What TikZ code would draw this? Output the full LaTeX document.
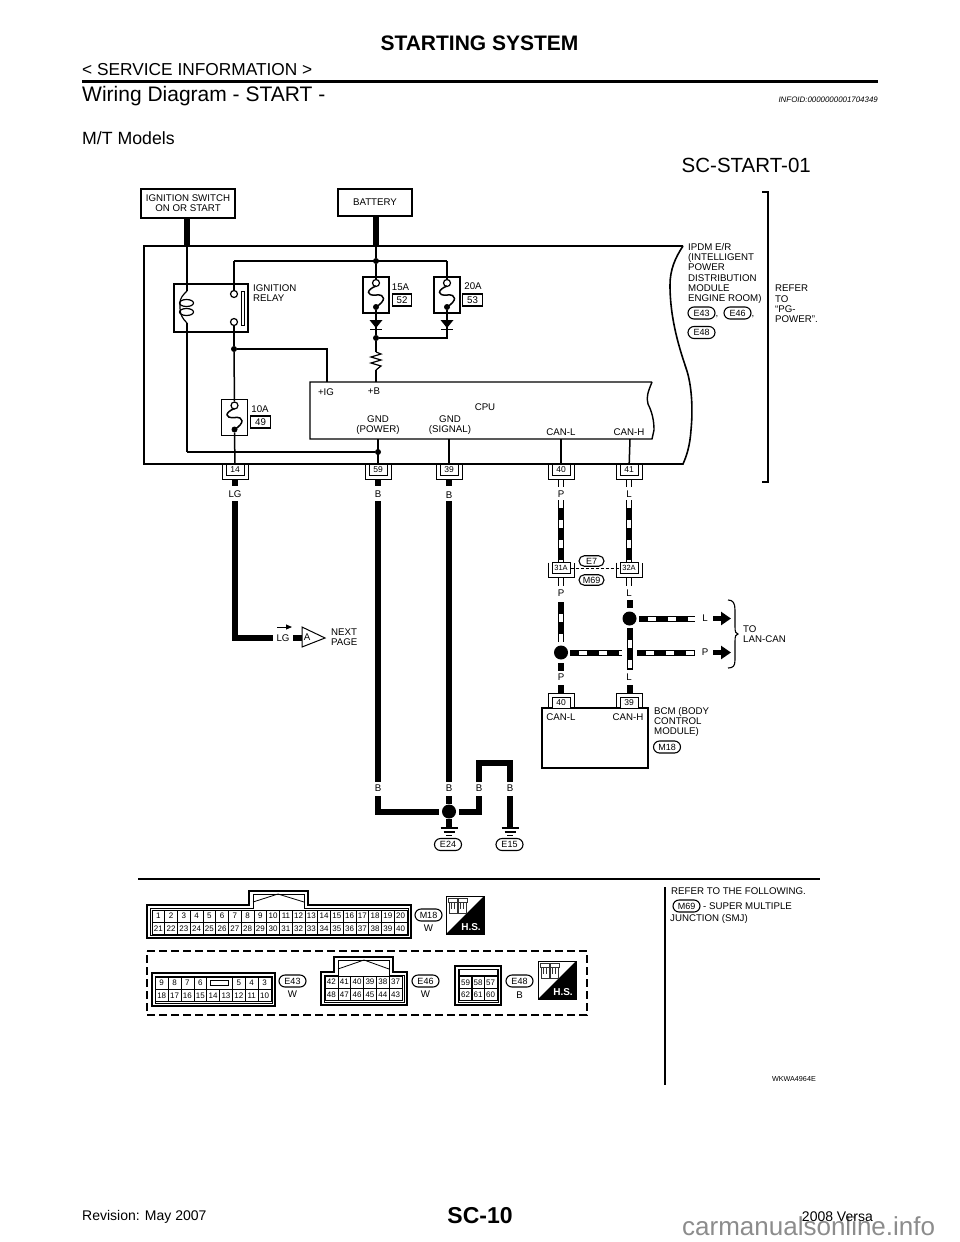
\documentclass[tikz,border=0pt]{standalone}
\usepackage{fontspec}
\setmainfont{Liberation Sans}
\usetikzlibrary{arrows.meta}
\usetikzlibrary{shapes.misc}
\newcommand{\fs}[1]{\fontsize{#1}{#1}\selectfont}
\newcommand{\fuseunit}[3]{
\node[fusebox] (#1) at (#2,#3) {};
\node[contact] (#1a) at (#2,#3-12) {};
\node[jdot] (#1b) at (#2,#3+12) {};
\draw[wire,shift={(#2,#3)}] (0,-9) .. controls (-10,-5) and (-10,1) .. (0,0) .. controls (10,-1) and (10,6) .. (0,12);
}
\newcommand{\diodeunit}[3]{
\coordinate (#1) at (#2,#3);
\fill[shift={(#2,#3)}] (-6.5,-8) -- (6.5,-8) -- (0,0) -- cycle;
\draw[wire,shift={(#2,#3)}] (-6,1.5) -- (6,1.5);
}
\newcommand{\groundunit}[3]{
\coordinate (#1) at (#2,#3);
\draw[wire,shift={(#2,#3)}] (-8.5,0) -- (8.5,0);
\draw[wire,shift={(#2,#3)}] (-5.5,4) -- (5.5,4);
\draw[wire,shift={(#2,#3)}] (-3,7.5) -- (3,7.5);
}
\tikzset{
every node/.style={inner sep=0pt,text=black,font=\fontsize{9.7}{10.2}\selectfont},
wire/.style={line width=1.5pt},
thickwire/.style={line width=6pt},
stripewire/.style={line width=4pt,white,dash pattern=on 8pt off 12pt,dash phase=#1,preaction={draw,black,line width=6pt,solid}},
stripewire/.default=8pt,
namebox/.style={draw,line width=1.5pt,align=center},
fusebox/.style={draw,line width=1.2pt,fill=white,minimum width=26pt,minimum height=36pt},
ampbox/.style={draw,line width=1.2pt,minimum width=19.5pt,minimum height=12pt},
pinbox/.style={draw,line width=1pt,fill=white,minimum width=18pt,minimum height=11pt,font=\fs{8.5}},
contact/.style={circle,draw,line width=1.2pt,fill=white,minimum size=7pt},
jdot/.style={circle,fill=black,minimum size=6pt},
bigdot/.style={circle,fill=black,minimum size=14pt},
oval/.style={rounded rectangle,draw,line width=1.1pt,minimum width=27pt,minimum height=12pt,font=\fs{9}},
cell/.style={draw,line width=.6pt,minimum width=12.75pt,minimum height=12pt,font=\fs{8}},
fatarrow/.style={line width=5pt,-{Triangle[length=10pt,width=13pt]}},
shell/.style={line width=1.1pt,line join=miter},
pinedge/.pic={\draw[line width=1pt] (-13,-5.5) -- (-13,9.5) -- (13,9.5) -- (13,-5.5);},
hsicon/.pic={
\draw[line width=.7pt] (0,0) rectangle (38,38);
\fill (38,0) -- (38,38) -- (0,38) -- cycle;
\draw[line width=.7pt,black!80] (3,6) rectangle (11,17);
\draw[line width=.7pt,black!80] (12,6) rectangle (20,17);
\draw[line width=.7pt,black!80] (2,2) rectangle (11,6);
\draw[line width=.7pt,black!80] (12,2) rectangle (21,6);
\draw[line width=.7pt,black!80] (5,6) -- (5,13) (8,6) -- (8,13) (14,6) -- (14,13) (17,6) -- (17,13);
\node[text=white,font=\bfseries\fs{10}] (tag) at (25,31) {H.S.};
}
}
\begin{document}
\begin{tikzpicture}[x=1pt,y=-1pt]
\useasboundingbox (0,0) rectangle (960,1242);

\node[font=\bfseries\fs{21},anchor=center] (title) at (479.5,43) {STARTING SYSTEM};
\node[font=\fs{17.3},anchor=west] (section) at (82,70) {< SERVICE INFORMATION >};
\coordinate (rulea) at (82,81.5);
\coordinate (ruleb) at (878,81.5);
\draw[line width=2.5pt] (rulea) -- (ruleb);
\node[font=\fs{21},anchor=west] (heading) at (82,96) {Wiring Diagram - START -};
\node[font=\itshape\fs{7.9},anchor=east] (infoid) at (878,100) {INFOID:0000000001704349};
\node[font=\fs{17.7},anchor=west] (models) at (82,138) {M/T Models};
\node[font=\fs{20.5},anchor=east] (code) at (811,165) {SC-START-01};
\node[font=\bfseries\fs{23},anchor=center] (page) at (480,1216) {SC-10};
\node[font=\fs{14},anchor=west] (rev) at (82,1217) {Revision: May 2007};
\node[font=\fs{26},text=black!45,anchor=west] (mark) at (682,1226) {carmanualsonline.info};
\node[font=\fs{14},anchor=east] (year) at (873,1217) {2008 Versa};

\node[namebox,minimum width=94pt,minimum height=29pt] (ign) at (188,203.5) {IGNITION SWITCH\\ON OR START};
\node[namebox,minimum width=74pt,minimum height=27pt] (bat) at (375,202.5) {BATTERY};
\coordinate (ignin) at (187,246);
\coordinate (batin) at (376,246);
\draw[thickwire] (ign.south -| ignin) -- (ignin);
\draw[thickwire] (bat.south -| batin) -- (batin);

\draw[line width=1.6pt] (683,246) -- (144,246) -- (144,464) -- (683,464) .. controls (687,455) and (690,445) .. (691,430) .. controls (693,410) and (692,385) .. (686,368) .. controls (680,350) and (670,320) .. (670,285) .. controls (670,270) and (675,258) .. (683,246);
\draw[line width=1.4pt] (652,382) -- (310,382) -- (310,439) -- (652,439) -- (654,430) .. controls (654,420) and (652,412) .. (648,404) .. controls (646,397) and (648,392) .. (652,382);

\node[fusebox,minimum width=74pt,minimum height=48pt] (relay) at (211,308) {};
\node[contact] (relaya) at (234,294) {};
\node[contact] (relayb) at (234,322) {};
\draw[line width=1pt,fill=white] (241,291) rectangle (244,325);
\node[anchor=west,align=left] (relaytxt) at (253,293) {IGNITION\\RELAY};
\coordinate (coila) at (187,291);
\coordinate (coilb) at (187,323);
\coordinate (ignbot) at (187,452);
\draw[wire] (ignin) -- (coila);
\draw[wire] (coilb) -- (ignbot);
\draw[line width=1.2pt] (coila) .. controls (183,295) and (180,298) .. (180,303) .. controls (180,305) and (180,306) .. (180,308) .. controls (180,315) and (183,319) .. (coilb);
\draw[line width=1.2pt] (186.5,303) ellipse (7 and 3.5);
\draw[line width=1.2pt] (186.5,312) ellipse (7 and 3.5);

\node[jdot] (jtop) at (376,261) {};
\coordinate (topleft) at (234,261);
\coordinate (topright) at (447,261);
\draw[wire] (batin) -- (jtop);
\draw[wire] (topleft) -- (topright);
\draw[wire] (topleft) -- (relaya);

\fuseunit{fa}{376}{295}
\fuseunit{fb}{447}{295}
\fuseunit{fc}{234.5}{417.5}
\draw[wire] (jtop) -- (faa);
\draw[wire] (topright) -- (fba);
\node[anchor=center] (fatxt) at (400.5,287) {15A};
\node[ampbox] (faamp) at (402,300) {52};
\node[anchor=center] (fbtxt) at (473,286) {20A};
\node[ampbox] (fbamp) at (472.5,300) {53};
\node[anchor=center] (fctxt) at (260,409) {10A};
\node[ampbox] (fcamp) at (260.5,422) {49};

\diodeunit{da}{376}{328}
\diodeunit{db}{447}{328}
\node[jdot] (jmid) at (376,338) {};
\coordinate (midright) at (447,338);
\draw[wire] (fab) -- (da);
\draw[wire] (fbb) -- (db);
\draw[wire] (da) -- (jmid);
\draw[wire] (db) -- (midright) -- (jmid);
\coordinate (resa) at (376,352);
\coordinate (resb) at (376,370);
\coordinate (cpub) at (376,382);
\draw[wire] (jmid) -- (resa);
\draw[line width=1.2pt] (resa) -- (381,354) -- (371,357) -- (381,360) -- (371,363) -- (381,366) -- (resb);
\draw[wire] (resb) -- (cpub);

\node[jdot] (jrelay) at (234,349) {};
\coordinate (cpuig) at (327,382);
\draw[wire] (relayb) -- (jrelay);
\draw[wire] (jrelay) -- (fca);
\draw[wire] (jrelay) -| (cpuig);

\node (igtxt) at (326,392) {+IG};
\node (btxt) at (374,391) {+B};
\node (cputxt) at (485,407) {CPU};
\node[align=center] (gndp) at (378,425) {GND\\(POWER)};
\node[align=center] (gnds) at (450,425) {GND\\(SIGNAL)};
\node (canl) at (561,432) {CAN-L};
\node (canh) at (629,432) {CAN-H};

\node[anchor=west,align=left] (ipdm) at (688,273.5) {IPDM E/R\\(INTELLIGENT\\POWER\\DISTRIBUTION\\MODULE\\ENGINE ROOM)};
\node[oval] (ea) at (701.5,313) {E43};
\node (commaa) at (717,317) {,};
\node[oval] (eb) at (737.5,313) {E46};
\node (commab) at (753,317) {,};
\node[oval] (ec) at (701.5,332.5) {E48};
\draw[line width=1.5pt] (762,192) -- (768,192) -- (768,482) -- (762,482);
\node[anchor=west,align=left] (refer) at (775,304) {REFER\\TO\\``PG-\\POWER''.};

\foreach \name/\px/\num in {p14/235/14,p59/378/59,p39/449/39,p40/561/40,p41/629/41}{
\node[pinbox] (\name) at (\px,469.5) {\num};
\pic at (\name) {pinedge};
}
\node[jdot] (jgnd) at (378,452) {};
\coordinate (cpug) at (378,439);
\coordinate (cpus) at (449,439);
\coordinate (cpul) at (561,439);
\coordinate (cpuh) at (630,439);
\draw[wire] (ignbot) -- (jgnd);
\draw[wire] (cpug) -- (p59);
\draw[wire] (cpus) -- (p39);
\draw[wire] (cpul) -- (p40);
\draw[wire] (cpuh) -- (p41);
\draw[wire] (fcb) -- (p14);
\foreach \name/\px in {p14/235,p59/378,p39/449}{
\coordinate (\name s) at (\px,480);
\coordinate (\name t) at (\px,486);
\draw[thickwire] (\name s) -- (\name t);
}
\foreach \name/\px in {p40/561,p41/629}{
\coordinate (\name s) at (\px,480);
\coordinate (\name t) at (\px,487);
\draw[stripewire=0pt] (\name s) -- (\name t);
}
\node (lgtxt) at (235,494) {LG};
\node (bta) at (378,494) {B};
\node (btb) at (449,495) {B};
\node (ptxt) at (561,494) {P};
\node (ltxt) at (629,494) {L};

\coordinate (lga) at (235,501);
\coordinate (lgb) at (235,637.5);
\coordinate (lgc) at (273,637.5);
\draw[thickwire] (lga) -- (lgb) -- (lgc);
\node (lgtxtb) at (283,638) {LG};
\coordinate (arra) at (277,627);
\coordinate (arrb) at (292,627);
\draw[line width=1pt,-{Triangle[length=6pt,width=5pt]}] (arra) -- (arrb);
\coordinate (stuba) at (293,637.5);
\coordinate (stubb) at (302,637.5);
\draw[thickwire] (stuba) -- (stubb);
\draw[line width=1pt,fill=white] (302,627) -- (325,638) -- (302,647) -- cycle;
\node (atxt) at (307,637) {A};
\node[anchor=west,align=left] (nexttxt) at (331,637) {NEXT\\PAGE};

\coordinate (ba) at (378,501);
\coordinate (bb) at (378,782);
\coordinate (bc) at (378,796);
\coordinate (bd) at (378,811.5);
\node[bigdot] (jearth) at (449,811.5) {};
\draw[thickwire] (ba) -- (bb);
\draw[thickwire] (bc) -- (bd) -- (439,811.5);
\node (btc) at (378,788) {B};
\coordinate (be) at (449,501);
\coordinate (bf) at (449,782);
\coordinate (bg) at (449,796);
\draw[thickwire] (be) -- (bf);
\draw[thickwire] (bg) -- (jearth);
\node (btd) at (449,788) {B};
\coordinate (bh) at (459,811.5);
\coordinate (bi) at (479,811.5);
\coordinate (bj) at (479,796);
\draw[thickwire] (bh) -- (bi) -- (bj);
\node (bte) at (479,788) {B};
\coordinate (bk) at (479,782);
\coordinate (bl) at (479,762.5);
\coordinate (bm) at (510,762.5);
\coordinate (bn) at (510,782);
\draw[thickwire] (bk) -- (bl) -- (bm) -- (bn);
\node (btf) at (510,788) {B};
\groundunit{ga}{449}{828}
\groundunit{gb}{510}{828}
\coordinate (bo) at (510,796);
\draw[thickwire] (bo) -- (gb);
\draw[thickwire] (jearth) -- (ga);
\node[oval] (gatxt) at (448,844.5) {E24};
\node[oval] (gbtxt) at (509.5,844.5) {E15};

\coordinate (pa) at (561,500);
\coordinate (pb) at (561,562);
\coordinate (la) at (629,500);
\coordinate (lb) at (629,562);
\draw[stripewire=0pt] (pa) -- (pb);
\draw[stripewire=0pt] (la) -- (lb);
\node[pinbox,minimum width=18pt,font=\fs{7.5}] (pta) at (561,568) {31A};
\node[pinbox,minimum width=18pt,font=\fs{7.5}] (ptb) at (629,568) {32A};
\pic at (pta) {pinedge};
\pic at (ptb) {pinedge};
\draw[line width=.9pt,dash pattern=on 3pt off 2pt] (pta.east) -- (ptb.west);
\node[oval,fill=white,minimum width=25pt,minimum height=10.5pt] (esv) at (591.5,561) {E7};
\node[oval,fill=white,minimum width=25pt,minimum height=10.5pt] (msn) at (591.5,580) {M69};
\coordinate (pc) at (561,578);
\coordinate (pd) at (561,586);
\coordinate (lc) at (629,578);
\coordinate (ld) at (629,586);
\draw[stripewire=0pt] (pc) -- (pd);
\draw[stripewire=0pt] (lc) -- (ld);
\node (pts) at (561,593) {P};
\node (lts) at (629,593) {L};

\coordinate (pe) at (561,602);
\coordinate (pf) at (561,642);
\draw[stripewire] (pe) -- (pf);
\node[bigdot] (jcanl) at (561,652.5) {};
\coordinate (pg) at (561,663);
\coordinate (ph) at (561,671);
\draw[thickwire] (pg) -- (ph);
\node (ptt) at (561,677) {P};
\coordinate (pi) at (561,685);
\coordinate (pj) at (561,693);
\draw[thickwire] (pi) -- (pj);

\coordinate (le) at (629.5,600);
\coordinate (lf) at (629.5,608);
\draw[thickwire] (le) -- (lf);
\node[bigdot] (jcanh) at (629.5,618.5) {};
\coordinate (lg) at (629.5,628);
\coordinate (lh) at (629.5,670);
\draw[stripewire] (lg) -- (lh);
\node (ltt) at (629,677) {L};
\coordinate (li) at (629.5,685);
\coordinate (lj) at (629.5,693);
\draw[thickwire] (li) -- (lj);

\coordinate (lk) at (639,618.5);
\coordinate (ll) at (695,618.5);
\draw[stripewire=11pt] (lk) -- (ll);
\node (ltu) at (705,618.5) {L};
\coordinate (lm) at (713,618.5);
\coordinate (ln) at (731,618.5);
\draw[fatarrow] (lm) -- (ln);
\coordinate (pk) at (570,652.5);
\coordinate (pl) at (622,652.5);
\draw[stripewire=11pt] (pk) -- (pl);
\coordinate (pm) at (637,652.5);
\coordinate (pn) at (695,652.5);
\draw[stripewire=11pt] (pm) -- (pn);
\node (ptu) at (705,652.5) {P};
\coordinate (po) at (713,652.5);
\coordinate (pp) at (731,652.5);
\draw[fatarrow] (po) -- (pp);
\draw[line width=1.1pt] (728,600) .. controls (733,600) and (735,603) .. (735,610) -- (735,627) .. controls (735,632) and (736,634) .. (738,634) .. controls (736,634) and (735,636) .. (735,641) -- (735,660) .. controls (735,666) and (733,668) .. (728,668);
\node[anchor=west,align=left] (lantxt) at (743,634) {TO\\LAN-CAN};

\node[draw,line width=1.2pt,minimum width=106pt,minimum height=60pt] (bcm) at (595,738) {};
\foreach \name/\px/\num in {pb40/561/40,pb39/629/39}{
\node[pinbox] (\name) at (\px,702.5) {\num};
\pic[yscale=-1] at (\name) {pinedge};
}
\node (bcml) at (561,717) {CAN-L};
\node (bcmh) at (628,717) {CAN-H};
\node[anchor=west,align=left] (bcmtxt) at (654,722) {BCM (BODY\\CONTROL\\MODULE)};
\node[oval] (bcmid) at (667,747) {M18};

\draw[line width=1.6pt] (138,879) -- (820,879);
\draw[line width=1.6pt] (665,887) -- (665,1085);
\node[anchor=west] (refera) at (671,891) {REFER TO THE FOLLOWING.};
\node[oval] (referb) at (686.5,906) {M69};
\node[anchor=west] (referc) at (703,906) {- SUPER MULTIPLE};
\node[anchor=west] (referd) at (670,919) {JUNCTION (SMJ)};
\node[anchor=east,font=\fs{7.2}] (wk) at (816,1079) {WKWA4964E};

\draw[shell] (147,938) -- (147,905) -- (249,905) -- (249,891) -- (308,891) -- (308,905) -- (411,905) -- (411,938) -- cycle;
\draw[line width=.7pt] (150,935) -- (150,908) -- (253,908) -- (253,894) -- (304,894) -- (304,908) -- (408,908) -- (408,935) -- cycle;
\draw[line width=.8pt] (253,902) -- (278,894) -- (304,902);
\foreach \n [count=\c from 0] in {1,...,20}{
\node[cell] (ma\n) at ({158.4+12.75*\c},916) {\n};
}
\foreach \n [count=\c from 0] in {21,...,40}{
\node[cell] (ma\n) at ({158.4+12.75*\c},928.5) {\n};
}
\node[oval] (mid) at (428.5,915) {M18};
\node (midw) at (428.5,928) {W};
\pic (hsa) at (446,896) {hsicon};

\draw[line width=1.3pt,dash pattern=on 8pt off 4pt] (147,951) -- (587,951) -- (587,1015) -- (147,1015) -- cycle;

\draw[shell] (152,973) rectangle (275,1006);
\draw[line width=.7pt] (155,976) rectangle (272,1003);
\foreach \n [count=\c from 0] in {18,17,16,15,14,13,12,11,10}{
\node[cell,minimum width=12.85pt] (ea\n) at ({161.7+12.85*\c},995.5) {\n};
}
\foreach \n/\c in {9/0,8/1,7/2,6/3,5/6,4/7,3/8}{
\node[cell,minimum width=12.85pt] (ea\n) at ({161.7+12.85*\c},983) {\n};
}
\node[cell,minimum width=25.7pt] (easlot) at (219.5,983) {};
\node[draw,line width=.9pt,minimum width=18pt,minimum height=5pt] (easlotb) at (219.5,983) {};
\node[oval] (eaid) at (292.5,981) {E43};
\node (eaw) at (292.5,994) {W};

\draw[shell] (321,1005) -- (321,972) -- (334,972) -- (334,957) -- (393,957) -- (393,972) -- (407,972) -- (407,1005) -- cycle;
\draw[line width=.7pt] (324,1002) -- (324,975) -- (338,975) -- (338,960) -- (389,960) -- (389,975) -- (404,975) -- (404,1002) -- cycle;
\draw[line width=.8pt] (338,969) -- (364,960) -- (389,969);
\foreach \n [count=\c from 0] in {42,41,40,39,38,37}{
\node[cell,minimum width=12.85pt] (eb\n) at ({331.4+12.85*\c},982) {\n};
}
\foreach \n [count=\c from 0] in {48,47,46,45,44,43}{
\node[cell,minimum width=12.85pt] (eb\n) at ({331.4+12.85*\c},994.5) {\n};
}
\node[oval] (ebid) at (425.5,981) {E46};
\node (ebw) at (425.5,994) {W};

\draw[shell] (455,966) rectangle (501,1005);
\draw[line width=.7pt] (458,969) rectangle (498,1002);
\draw[line width=.7pt] (459,969) rectangle (497,975);
\foreach \n [count=\c from 0] in {59,58,57}{
\node[cell] (ec\n) at ({465.5+12.5*\c},982.5) {\n};
}
\foreach \n [count=\c from 0] in {62,61,60}{
\node[cell] (ec\n) at ({465.5+12.5*\c},994.5) {\n};
}
\node[oval] (ecid) at (519.5,981) {E48};
\node (ecw) at (519.5,995) {B};
\pic (hsb) at (538,961) {hsicon};
\end{tikzpicture}
\end{document}
